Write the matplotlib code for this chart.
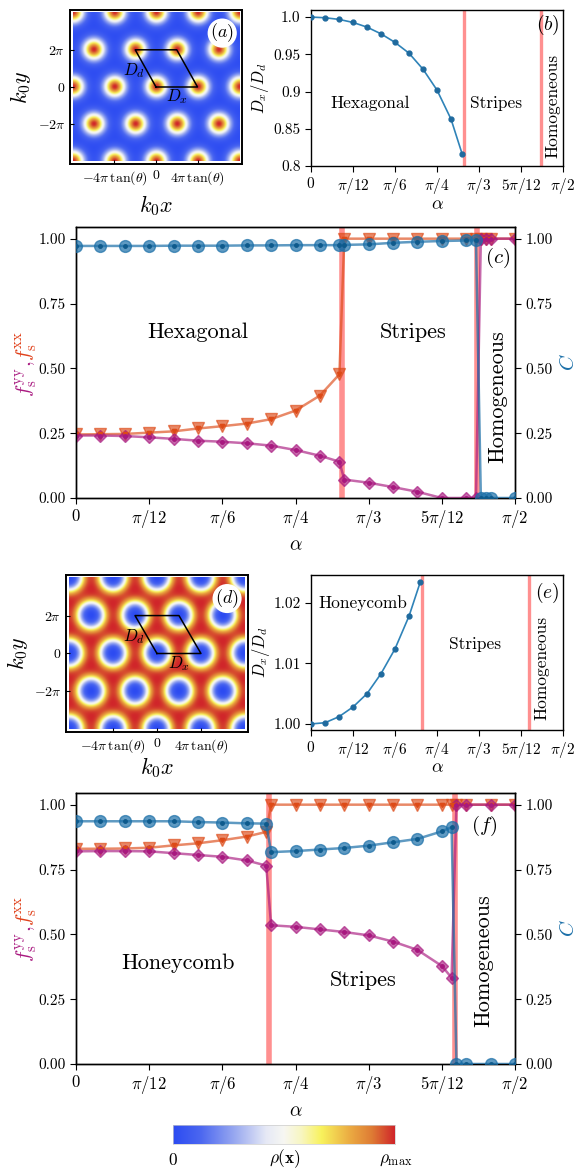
import numpy as np
import matplotlib
matplotlib.use('Agg')
import matplotlib.pyplot as plt
from matplotlib.colors import LinearSegmentedColormap

plt.rcParams.update({
    'font.family': 'serif', 'font.serif': ['cmr10'], 'mathtext.fontset': 'cm',
    'axes.unicode_minus': False, 'axes.formatter.use_mathtext': True,
    'xtick.direction': 'out', 'ytick.direction': 'out', 'axes.linewidth': 1.0,
})

# ---------------- data ----------------
# (b) hexagonal phase D_x/D_d
b_alpha_deg = [0, 5, 10, 15, 20, 25, 30, 35, 40, 45, 50, 54]
b_ratio = [1.000, 0.9991, 0.9969, 0.9928, 0.9865, 0.9775, 0.966, 0.9515, 0.930, 0.902, 0.863, 0.816]
hex_transitions_deg = [54.5, 82.3]

# (c) hexagonal -> stripes -> homogeneous
c_alpha_deg = [0, 5, 10, 15, 20, 25, 30, 35, 40, 45, 50, 54,
               55, 60, 65, 70, 75, 80, 82,
               83, 84, 85, 90]
c_fxx = [0.245, 0.246, 0.247, 0.252, 0.257, 0.268, 0.277, 0.287, 0.304, 0.337, 0.395, 0.477,
         1.0, 1.0, 1.0, 1.0, 1.0, 1.0, 1.0,
         1.0, 1.0, 1.0, 1.0]
c_fyy = [0.241, 0.241, 0.239, 0.234, 0.228, 0.221, 0.217, 0.211, 0.202, 0.185, 0.163, 0.140,
         0.071, 0.059, 0.042, 0.024, 0.0, 0.0, 0.0,
         1.0, 1.0, 1.0, 1.0]
c_C = [0.972, 0.972, 0.972, 0.972, 0.973, 0.973, 0.973, 0.974, 0.974, 0.975, 0.975, 0.975,
       0.976, 0.978, 0.984, 0.988, 0.991, 0.993, 0.995,
       0.0, 0.0, 0.0, 0.0]

# (e) honeycomb phase D_x/D_d
e_alpha_deg = [0, 5, 10, 15, 20, 25, 30, 35, 39]
e_ratio = [1.0000, 1.0002, 1.0012, 1.0028, 1.0050, 1.0083, 1.0124, 1.0178, 1.0234]
hc_transitions_deg = [39.6, 77.8]

# (f) honeycomb -> stripes -> homogeneous
f_alpha_deg = [0, 5, 10, 15, 20, 25, 30, 35, 39,
               40, 45, 50, 55, 60, 65, 70, 75, 77,
               78, 80, 85, 90]
f_fxx = [0.830, 0.830, 0.831, 0.834, 0.843, 0.851, 0.863, 0.877, 0.895,
         1.0, 1.0, 1.0, 1.0, 1.0, 1.0, 1.0, 1.0, 1.0,
         1.0, 1.0, 1.0, 1.0]
f_fyy = [0.820, 0.821, 0.821, 0.820, 0.813, 0.806, 0.799, 0.785, 0.765,
         0.535, 0.529, 0.519, 0.509, 0.496, 0.472, 0.440, 0.378, 0.333,
         1.0, 1.0, 1.0, 1.0]
f_C = [0.936, 0.936, 0.936, 0.936, 0.936, 0.933, 0.931, 0.928, 0.927,
       0.817, 0.821, 0.827, 0.833, 0.842, 0.855, 0.868, 0.897, 0.913,
       0.0, 0.0, 0.0, 0.0]

alpha_ticks_labels = [r'$0$', r'$\pi/12$', r'$\pi/6$', r'$\pi/4$', r'$\pi/3$', r'$5\pi/12$', r'$\pi/2$']
frac_ticks_labels = ['0.00', '0.25', '0.50', '0.75', '1.00']

# lattice snapshots (units: x in D_x, y in 2*pi)
hex_row_ratio = 0.904   # physical row spacing / D_x in panel (a)
hc_row_ratio = 0.842    # physical row spacing / D_x in panel (d)

# ---------------- styles ----------------
C_XX = '#DD4A17'
C_YY = '#A8187F'
C_C = '#1B6FA8'
C_BAND = '#FF6B6B'
C_LINE = '#2F83B8'

cmap = LinearSegmentedColormap.from_list('rho', [
    (0.00, '#2C4BF2'), (0.12, '#4A66F0'), (0.28, '#9AAAF0'), (0.42, '#E6E9F6'),
    (0.50, '#F7F7F2'), (0.58, '#F8F6C0'), (0.67, '#F8F25C'), (0.80, '#EBAA42'),
    (0.90, '#DE7A34'), (1.00, '#D0262A')])

fig = plt.figure(figsize=(5.76, 11.72), dpi=100)
W, H = 576.0, 1172.0


def rect(l, r, t, b):
    return [l / W, 1 - b / H, (r - l) / W, (b - t) / H]


def density(rows_ratio, holes):
    xs = np.linspace(-2.0, 2.0, 500)
    ys = np.linspace(-2.0, 2.0, 500)
    X, Y = np.meshgrid(xs, ys)
    acc = np.zeros_like(X)
    for n in range(-4, 5):
        for m in range(-5, 6):
            cx = m + 0.5 * (n % 2)
            cy = n
            r = np.hypot(X - cx, (Y - cy) * rows_ratio)
            if holes:
                acc += 0.5 * np.exp(-(r / 0.32) ** 4) + 0.5 * np.exp(-r ** 2 / (2 * 0.25 ** 2))
            else:
                acc += np.exp(-r ** 2 / (2 * 0.18 ** 2))
    if holes:
        rho = 1 - acc
        rho = (rho - rho.min()) / (rho.max() - rho.min())
    else:
        rho = acc / acc.max()
    return rho


def snapshot(ax, rho, label):
    ax.imshow(rho, extent=[-2.0, 2.0, -2.0, 2.0], origin='lower', cmap=cmap,
              vmin=0, vmax=1, aspect='auto', interpolation='bilinear')
    ax.set_xlim(-2.07, 2.07)
    ax.set_ylim(-2.07, 2.07)
    ax.plot([0, 1, 0.5, -0.5, 0], [0, 0, 1, 1, 0], color='k', lw=1.1)
    ax.text(-0.52, 0.44, r'$D_d$', fontsize=12, ha='center', va='center')
    ax.text(0.5, -0.27, r'$D_x$', fontsize=12, ha='center', va='center')
    ax.set_xticks([-1, 0, 1])
    ax.set_xticklabels([r'$-4\pi\,\tan(\theta)$', r'$0$', r'$4\pi\,\tan(\theta)$'])
    ax.set_yticks([-1, 0, 1])
    ax.set_yticklabels([r'$-2\pi$', r'$0$', r'$2\pi$'])
    ax.tick_params(labelsize=10, length=3, direction='in', width=0.8)
    for s in ax.spines.values():
        s.set_linewidth(1.4)
    ax.text(0.885, 0.85, label, transform=ax.transAxes, fontsize=13, ha='center', va='center',
            bbox=dict(boxstyle='circle,pad=0.15', fc='white', ec='none'))


def alpha_axis(ax, size):
    ax.set_xlim(0, np.pi / 2)
    ax.set_xticks([k * np.pi / 12 for k in range(7)])
    ax.set_xticklabels(alpha_ticks_labels)
    ax.tick_params(axis='x', labelsize=size, length=4, width=0.8)
    ax.tick_params(axis='y', length=4, width=0.8)


# ---------------- (a) ----------------
ax_a = fig.add_axes(rect(70, 242, 10, 164))
snapshot(ax_a, density(hex_row_ratio, False), r'$(a)$')
ax_a.set_xlabel(r'$k_0x$', fontsize=16)
ax_a.xaxis.set_label_coords(0.5, -0.19)
ax_a.set_ylabel(r'$k_0y$', fontsize=16)
ax_a.yaxis.set_label_coords(-0.215, 0.5)

# ---------------- (b) ----------------
ax_b = fig.add_axes(rect(311, 563, 10, 166))
bx = np.deg2rad(b_alpha_deg)
for t in hex_transitions_deg:
    ax_b.axvline(np.deg2rad(t), color=C_BAND, lw=2.4, alpha=0.75, zorder=1)
ax_b.plot(bx, b_ratio, '-', color=C_LINE, lw=1.2, zorder=2)
ax_b.plot(bx, b_ratio, 'o', color='#1F6A9E', ms=3.5, zorder=3)
alpha_axis(ax_b, 11)
ax_b.tick_params(axis='y', labelsize=11)
ax_b.set_ylim(0.8, 1.0095)
ax_b.set_yticks([0.8, 0.85, 0.9, 0.95, 1.0])
ax_b.set_yticklabels(['0.8', '0.85', '0.9', '0.95', '1.0'])
ax_b.set_ylabel(r'$D_x/D_d$', fontsize=12)
ax_b.yaxis.set_label_coords(-0.16, 0.5)
ax_b.set_xlabel(r'$\alpha$', fontsize=13)
ax_b.xaxis.set_label_coords(0.5, -0.2)
ax_b.text(np.deg2rad(21), 0.8846, 'Hexagonal', fontsize=12.5, ha='center', va='center')
ax_b.text(np.deg2rad(66), 0.8846, 'Stripes', fontsize=12.5, ha='center', va='center')
ax_b.text(np.deg2rad(86.2), 0.88, 'Homogeneous', fontsize=12.5, ha='center', va='center', rotation=90)
ax_b.text(np.deg2rad(84.6), 0.989, r'$(b)$', fontsize=14, ha='center', va='center')


def fraction_panel(ax, xdeg, fxx, fyy, C, trans):
    x = np.deg2rad(xdeg)
    for t in trans:
        ax.axvline(np.deg2rad(t), color=C_BAND, lw=4.0, alpha=0.75, zorder=1)
    ax.plot(x, fxx, '-', color=C_XX, lw=1.8, alpha=0.65, marker='v', ms=8, zorder=3)
    ax.plot(x, fxx, 'v', color=C_XX, ms=3, zorder=4)
    ax.plot(x, fyy, '-', color=C_YY, lw=1.8, alpha=0.65, marker='D', ms=6.5, zorder=3)
    ax.plot(x, fyy, 'o', color=C_YY, ms=2.5, zorder=4)
    alpha_axis(ax, 12)
    ax.tick_params(axis='y', labelsize=11)
    ax.set_ylim(0, 1.045)
    ax.set_yticks([0, 0.25, 0.5, 0.75, 1.0])
    ax.set_yticklabels(frac_ticks_labels)
    axr = ax.twinx()
    axr.plot(x, C, '-', color=C_C, lw=1.8, alpha=0.7, marker='o', ms=8.5, zorder=3)
    axr.plot(x, C, 'o', color='#0E5A8C', ms=2.5, zorder=4)
    axr.set_ylim(0, 1.045)
    axr.set_yticks([0, 0.25, 0.5, 0.75, 1.0])
    axr.set_yticklabels(frac_ticks_labels)
    axr.tick_params(labelsize=11, length=4, width=0.8)
    axr.set_ylabel(r'$C$', fontsize=15, color=C_C, rotation=90)
    axr.yaxis.set_label_coords(1.10, 0.5)
    ax.set_xlabel(r'$\alpha$', fontsize=14)
    ax.xaxis.set_label_coords(0.5, -0.14)
    return axr


# ---------------- (c) ----------------
ax_c = fig.add_axes(rect(76, 515, 227, 498))
axr_c = fraction_panel(ax_c, c_alpha_deg, c_fxx, c_fyy, c_C, hex_transitions_deg)
ax_c.text(np.deg2rad(25), 0.64, 'Hexagonal', fontsize=16, ha='center', va='center')
ax_c.text(np.deg2rad(69.2), 0.64, 'Stripes', fontsize=16, ha='center', va='center')
ax_c.text(np.deg2rad(86.5), 0.39, 'Homogeneous', fontsize=16, ha='center', va='center', rotation=90)
axr_c.text(np.deg2rad(86.4), 0.925, r'$(c)$', fontsize=15, ha='center', va='center')

# ---------------- (d) ----------------
ax_d = fig.add_axes(rect(66, 248, 575, 732))
snapshot(ax_d, density(hc_row_ratio, True), r'$(d)$')
ax_d.set_xlabel(r'$k_0x$', fontsize=16)
ax_d.xaxis.set_label_coords(0.5, -0.15)
ax_d.set_ylabel(r'$k_0y$', fontsize=16)
ax_d.yaxis.set_label_coords(-0.2, 0.5)

# ---------------- (e) ----------------
ax_e = fig.add_axes(rect(311, 563, 575, 730))
ex = np.deg2rad(e_alpha_deg)
for t in hc_transitions_deg:
    ax_e.axvline(np.deg2rad(t), color=C_BAND, lw=2.4, alpha=0.75, zorder=1)
ax_e.plot(ex, e_ratio, '-', color=C_LINE, lw=1.2, zorder=2)
ax_e.plot(ex, e_ratio, 'o', color='#1F6A9E', ms=3.5, zorder=3)
alpha_axis(ax_e, 11)
ax_e.tick_params(axis='y', labelsize=11)
ax_e.set_ylim(0.999, 1.0246)
ax_e.set_yticks([1.0, 1.01, 1.02])
ax_e.set_yticklabels(['1.00', '1.01', '1.02'])
ax_e.set_ylabel(r'$D_x/D_d$', fontsize=12)
ax_e.yaxis.set_label_coords(-0.155, 0.5)
ax_e.set_xlabel(r'$\alpha$', fontsize=13)
ax_e.xaxis.set_label_coords(0.5, -0.19)
ax_e.text(np.deg2rad(18.6), 1.0200, 'Honeycomb', fontsize=12.5, ha='center', va='center')
ax_e.text(np.deg2rad(58.6), 1.0131, 'Stripes', fontsize=12.5, ha='center', va='center')
ax_e.text(np.deg2rad(82.4), 1.0092, 'Homogeneous', fontsize=12.5, ha='center', va='center', rotation=90)
ax_e.text(np.deg2rad(84.3), 1.0217, r'$(e)$', fontsize=14, ha='center', va='center')

# ---------------- (f) ----------------
ax_f = fig.add_axes(rect(76, 515, 793, 1064))
axr_f = fraction_panel(ax_f, f_alpha_deg, f_fxx, f_fyy, f_C, hc_transitions_deg)
ax_f.text(np.deg2rad(21), 0.39, 'Honeycomb', fontsize=16, ha='center', va='center')
ax_f.text(np.deg2rad(58.8), 0.323, 'Stripes', fontsize=16, ha='center', va='center')
ax_f.text(np.deg2rad(83.6), 0.40, 'Homogeneous', fontsize=16, ha='center', va='center', rotation=90)
axr_f.text(np.deg2rad(83.6), 0.919, r'$(f)$', fontsize=15, ha='center', va='center')

# ---------------- colorbar ----------------
ax_cb = fig.add_axes(rect(173, 395, 1125, 1144))
ax_cb.imshow(np.linspace(0, 1, 256)[None, :], cmap=cmap, aspect='auto', extent=[0, 1, 0, 1])
ax_cb.set_xticks([])
ax_cb.set_yticks([])
for s in ax_cb.spines.values():
    s.set_color('#cccccc')
    s.set_linewidth(0.5)
fig.text(173 / W, 1 - 1160 / H, r'$0$', fontsize=12.5, ha='center', va='center')
fig.text(285 / W, 1 - 1159 / H, r'$\rho(\mathbf{x})$', fontsize=12.5, ha='center', va='center')
fig.text(396 / W, 1 - 1160 / H, r'$\rho_{\max}$', fontsize=12.5, ha='center', va='center')

# ---------------- multicolour left labels ----------------
fig.canvas.draw()
renderer = fig.canvas.get_renderer()


def multicolor_ylabel(xpx, ycpx, parts, size):
    texts, lens = [], []
    for s, c in parts:
        t = fig.text(xpx / W, 0.5, s, color=c, rotation=90, rotation_mode='anchor',
                     ha='left', va='baseline', fontsize=size)
        bb = t.get_window_extent(renderer)
        texts.append(t)
        lens.append(bb.height / fig.bbox.height)
    y = (1 - ycpx / H) - sum(lens) / 2
    for t, h in zip(texts, lens):
        t.set_y(y)
        y += h


parts = [(r'$f_\mathrm{s}^\mathrm{yy}$', C_YY), (r'$,\,$', C_YY), (r'$f_\mathrm{s}^\mathrm{xx}$', '#E0401A')]
multicolor_ylabel(31, 364, parts, 15)
multicolor_ylabel(31, 929, parts, 15)

fig.savefig('out.png', dpi=100)
